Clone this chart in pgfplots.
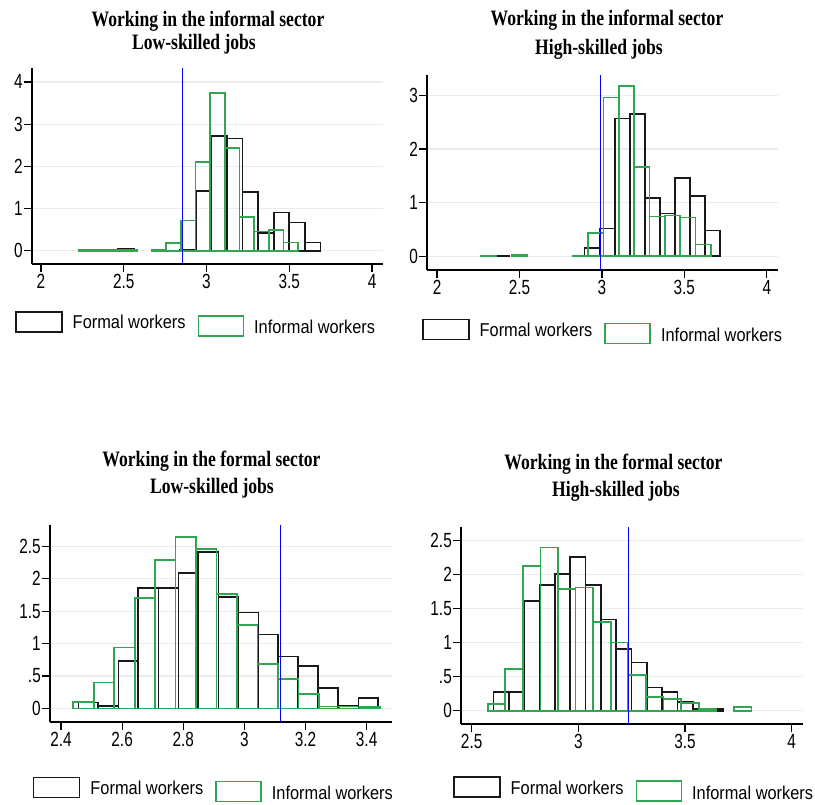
\documentclass[border=0pt]{standalone}
\usepackage{fontspec}
\usepackage{pgfplots}
\pgfplotsset{compat=1.18}
\newfontfamily\titlefont[FakeStretch=0.8]{Liberation Serif}
\newfontfamily\tickfont[FakeStretch=0.75]{Liberation Sans}
\newfontfamily\legfont[FakeStretch=0.88]{Liberation Sans}
\definecolor{sgreen}{RGB}{50,165,80}
\definecolor{sblack}{RGB}{25,25,25}
\pgfplotsset{
 stata/.style={
  scale only axis, anchor=south west,
  axis x line*=bottom, axis y line*=left,
  axis line style={-, line width=1.5pt, black},
  tick align=outside, major tick length=8pt,
  tick style={line width=1.2pt, black},
  ymajorgrids, grid style={line width=1.2pt, gray!15},
  /pgf/number format/assume math mode=true,
  xticklabel style={font=\fontsize{20.5}{21}\tickfont, inner sep=2pt},
  yticklabel style={font=\fontsize{20.5}{21}\tickfont, inner sep=1pt},
  legend columns=2,
  legend style={draw=none, fill=none, inner sep=0pt, outer sep=0pt, anchor=north west,
    font=\fontsize{18.6}{20}\legfont, cells={anchor=base west}, nodes={inner sep=0pt},
    /tikz/every even column/.append style={column sep=12pt}},
 },
 fbar/.style={ybar interval, draw=sblack, fill=none, line width=1.7pt,
   legend image code/.code={\draw[sblack, line width=1.5pt] (0pt,-3pt) rectangle (46pt,17pt); \path (56pt,0pt);}},
 ibar/.style={ybar interval, draw=sgreen, fill=none, line width=1.7pt,
   legend image code/.code={\draw[sgreen, line width=1.5pt] (0pt,-7pt) rectangle (45pt,13pt); \path (55pt,0pt);}},
}
\begin{document}
\begin{tikzpicture}
\path[use as bounding box] (0pt,0pt) rectangle (815pt,805pt);
% titles
\node[anchor=base, font=\fontsize{22}{23}\titlefont\bfseries] at (208pt,778.3pt) {Working in the informal sector};
\node[anchor=base, font=\fontsize{22}{23}\titlefont\bfseries] at (194pt,755pt) {Low-skilled jobs};
\node[anchor=base, font=\fontsize{22}{23}\titlefont\bfseries] at (607pt,779pt) {Working in the informal sector};
\node[anchor=base, font=\fontsize{22}{23}\titlefont\bfseries] at (599pt,750pt) {High-skilled jobs};
\node[anchor=base, font=\fontsize{22}{23}\titlefont\bfseries] at (211.5pt,338pt) {Working in the formal sector};
\node[anchor=base, font=\fontsize{22}{23}\titlefont\bfseries] at (212pt,311pt) {Low-skilled jobs};
\node[anchor=base, font=\fontsize{22}{23}\titlefont\bfseries] at (613.5pt,335pt) {Working in the formal sector};
\node[anchor=base, font=\fontsize{22}{23}\titlefont\bfseries] at (616pt,308pt) {High-skilled jobs};

% Panel 1
\begin{axis}[stata, at={(32pt,541pt)}, width=351pt, height=196pt,
  xmin=1.946, xmax=4.066, ymin=-0.31, ymax=4.33,
  xtick={2,2.5,3,3.5,4}, xticklabels={2,2.5,3,3.5,4},
  ytick={0,1,2,3,4}, yticklabels={0,1,2,3,4},
  legend style={at={(-0.048,-0.24)}}]
\addplot[fbar, forget plot] coordinates {(2.278,0.01) (2.372,0.01) (2.466,0.04) (2.560,0.04)};
\addplot[fbar] coordinates {(2.842,0.03) (2.936,1.42) (3.030,2.72) (3.124,2.66) (3.218,1.39) (3.312,0.42) (3.406,0.91) (3.500,0.67) (3.594,0.20) (3.688,0.20)};
\addlegendentry{Formal workers}
\addplot[ibar, forget plot] coordinates {(2.226,0.02) (2.3145,0.02) (2.403,0.02) (2.4915,0.02) (2.580,0.02)};
\addplot[ibar] coordinates {(2.6685,0.02) (2.757,0.18) (2.8455,0.72) (2.934,2.10) (3.0225,3.74) (3.111,2.44) (3.1995,0.81) (3.288,0.46) (3.3765,0.50) (3.465,0.20) (3.5535,0.20)};
\addlegendentry{\raisebox{-5pt}{Informal workers}}
\addplot[blue, line width=1pt, forget plot] coordinates {(2.853,-0.31) (2.853,4.33)};
\end{axis}

% Panel 2
\begin{axis}[stata, at={(427pt,535pt)}, width=351pt, height=195pt,
  xmin=1.939, xmax=4.068, ymin=-0.256, ymax=3.38,
  xtick={2,2.5,3,3.5,4}, xticklabels={2,2.5,3,3.5,4},
  ytick={0,1,2,3}, yticklabels={0,1,2,3},
  legend style={at={(-0.014,-0.249)}}]
\addplot[fbar, forget plot] coordinates {(2.347,0.01) (2.438,0.01)};
\addplot[fbar] coordinates {(2.895,0.16) (2.986,0.52) (3.078,2.57) (3.169,2.65) (3.260,1.09) (3.352,0.80) (3.443,1.46) (3.534,1.12) (3.626,0.48) (3.717,0.48)};
\addlegendentry{Formal workers}
\addplot[ibar, forget plot] coordinates {(2.266,0.01) (2.359,0.01)};
\addplot[ibar, forget plot] coordinates {(2.452,0.02) (2.545,0.02)};
\addplot[ibar] coordinates {(2.824,0.01) (2.917,0.44) (3.010,2.96) (3.103,3.17) (3.196,1.67) (3.289,0.74) (3.382,0.76) (3.475,0.72) (3.568,0.22) (3.661,0.22)};
\addlegendentry{\raisebox{-5pt}{Informal workers}}
\addplot[blue, line width=1pt, forget plot] coordinates {(2.992,-0.256) (2.992,3.38)};
\end{axis}

% Panel 3
\begin{axis}[stata, at={(50pt,83pt)}, width=342pt, height=197pt,
  xmin=2.364, xmax=3.483, ymin=-0.21, ymax=2.83,
  xtick={2.4,2.6,2.8,3,3.2,3.4}, xticklabels={2.4,2.6,2.8,3,3.2,3.4},
  ytick={0,0.5,1,1.5,2,2.5}, yticklabels={0,.5,1,1.5,2,2.5},
  legend style={at={(-0.05,-0.277)}}]
\addplot[fbar] coordinates {(2.457,0.09) (2.522,0.04) (2.588,0.73) (2.653,1.86) (2.719,1.86) (2.784,2.09) (2.849,2.41) (2.915,1.72) (2.980,1.48) (3.046,1.14) (3.111,0.80) (3.176,0.65) (3.242,0.31) (3.307,0.04) (3.373,0.16) (3.438,0.16)};
\addlegendentry{Formal workers}
\addplot[ibar] coordinates {(2.440,0.10) (2.507,0.40) (2.574,0.94) (2.641,1.70) (2.708,2.29) (2.775,2.64) (2.842,2.46) (2.909,1.77) (2.976,1.29) (3.043,0.68) (3.110,0.45) (3.177,0.22) (3.244,0.03) (3.311,0.03) (3.378,0.02) (3.445,0.02)};
\addlegendentry{\raisebox{-5pt}{Informal workers}}
\addplot[blue, line width=1pt, forget plot] coordinates {(3.119,-0.21) (3.119,2.83)};
\end{axis}

% Panel 4
\begin{axis}[stata, at={(461pt,81pt)}, width=342pt, height=197pt,
  xmin=2.45, xmax=4.053, ymin=-0.196, ymax=2.70,
  xtick={2.5,3,3.5,4}, xticklabels={2.5,3,3.5,4},
  ytick={0,0.5,1,1.5,2,2.5}, yticklabels={0,.5,1,1.5,2,2.5},
  legend style={at={(-0.023,-0.266)}}]
\addplot[fbar] coordinates {(2.602,0.27) (2.674,0.27) (2.746,1.61) (2.818,1.85) (2.890,2.01) (2.962,2.26) (3.033,1.85) (3.105,1.34) (3.177,0.91) (3.249,0.71) (3.321,0.34) (3.393,0.27) (3.465,0.13) (3.537,0.02) (3.608,0.02) (3.680,0.02)};
\addlegendentry{Formal workers}
\addplot[ibar] coordinates {(2.575,0.10) (2.657,0.61) (2.740,2.13) (2.822,2.40) (2.905,1.79) (2.987,1.81) (3.069,1.30) (3.152,1.00) (3.234,0.52) (3.317,0.20) (3.399,0.17) (3.481,0.11) (3.564,0.02) (3.646,0.02)};
\addlegendentry{\raisebox{-5pt}{Informal workers}}
\addplot[ibar, forget plot] coordinates {(3.729,0.05) (3.811,0.05)};
\addplot[blue, line width=1pt, forget plot] coordinates {(3.237,-0.196) (3.237,2.70)};
\end{axis}
\end{tikzpicture}
\end{document}
